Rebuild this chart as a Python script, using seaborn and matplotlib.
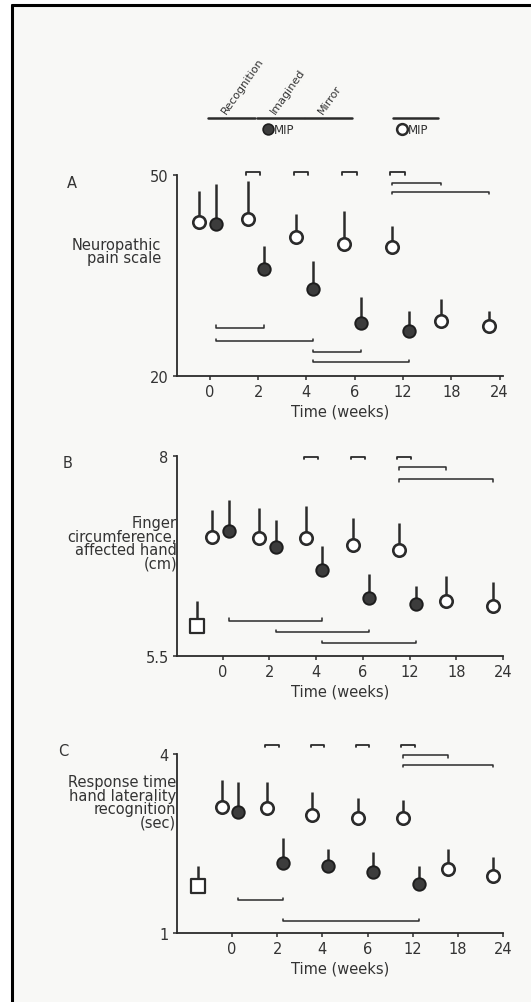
import numpy as np
import pandas as pd
import matplotlib.pyplot as plt
import seaborn as sns

sns.set_style("ticks")
plt.rcParams['font.family'] = ['DejaVu Sans']

# Data
weeks = ["0", "2", "4", "6", "12", "18", "24"]
mip_weeks = ["0", "2", "4", "6", "12"]

# A: neuropathic pain scale
a_open = [43.0, 43.4, 40.7, 39.7, 39.3, 28.2, 27.5]
a_open_top = [47.6, 49.1, 44.2, 44.6, 42.4, 31.5, 29.7]
a_mip = [42.7, 36.0, 33.0, 27.9, 26.7]
a_mip_top = [48.7, 39.4, 37.2, 31.8, 29.7]

# B: finger circumference (cm)
b_open = [6.99, 6.97, 6.97, 6.89, 6.82, 6.19, 6.13]
b_open_top = [7.32, 7.35, 7.38, 7.22, 7.16, 6.50, 6.43]
b_mip = [7.06, 6.86, 6.57, 6.22, 6.15]
b_mip_top = [7.45, 7.20, 6.87, 6.53, 6.38]
b_ctrl = 5.88
b_ctrl_top = 6.19

# C: response time hand laterality recognition (sec)
c_open = [3.12, 3.10, 2.98, 2.93, 2.93, 2.07, 1.95]
c_open_top = [3.57, 3.53, 3.37, 3.27, 3.23, 2.40, 2.28]
c_mip = [3.03, 2.18, 2.12, 2.02, 1.82]
c_mip_top = [3.53, 2.60, 2.40, 2.35, 2.12]
c_ctrl = 1.78
c_ctrl_top = 2.12

# significance bars: (from week, to week, level)
a_sig_low = [("0", "2", 27.2), ("0", "4", 25.2), ("4", "6", 23.6), ("4", "12", 22.1)]
a_sig_high = [("12", "18", 48.8), ("12", "24", 47.5)]
a_pairs = ["2", "4", "6", "12"]
b_sig_low = [("0", "4", 5.94), ("2", "6", 5.80), ("4", "12", 5.66)]
b_sig_high = [("12", "18", 7.86), ("12", "24", 7.71)]
b_pairs = ["4", "6", "12"]
c_sig_low = [("0", "2", 1.55), ("2", "12", 1.20)]
c_sig_high = [("12", "18", 3.98), ("12", "24", 3.82)]
c_pairs = ["2", "4", "6", "12"]

W, H = 531, 1003
INK = "#2b2b2b"
TXT = "#333333"
FS = 10.5
OPEN_DX, MIP_DX = -0.22, 0.13


def box(l, t, r, b):
    return [l / W, 1 - b / H, (r - l) / W, (b - t) / H]


fig = plt.figure(figsize=(W / 100, H / 100), dpi=100, facecolor="white")
bg = fig.add_axes([0, 0, 1, 1], zorder=-10)
bg.set_xlim(0, W)
bg.set_ylim(H, 0)
bg.axis("off")
bg.add_patch(plt.Rectangle((12, 6), W, H, facecolor="#f8f8f6", edgecolor="none"))
bg.plot([12, 12], [6, H], color="black", lw=2.2)
bg.plot([12, W], [6, 6], color="black", lw=2.2)


def idx(w):
    return weeks.index(w)


def panel(pos, xlim, ylim, yticks, open_v, open_top, mip_v, mip_top,
          sig_low, sig_high, pairs, pair_y, tick_h, ctrl=None, ctrl_top=None, ctrl_x=None):
    ax = fig.add_axes(box(*pos))
    ax.patch.set_alpha(0)
    xo = np.arange(len(weeks)) + OPEN_DX
    xm = np.array([idx(w) for w in mip_weeks]) + MIP_DX
    open_v, open_top = np.array(open_v), np.array(open_top)
    mip_v, mip_top = np.array(mip_v), np.array(mip_top)

    ax.errorbar(xo, open_v, yerr=[np.zeros_like(open_v), open_top - open_v],
                fmt="none", ecolor=INK, elinewidth=1.8, capsize=0, zorder=2)
    ax.errorbar(xm, mip_v, yerr=[np.zeros_like(mip_v), mip_top - mip_v],
                fmt="none", ecolor=INK, elinewidth=1.8, capsize=0, zorder=2)
    sns.scatterplot(x=xo, y=open_v, marker="o", s=80, color="white",
                    edgecolor=INK, linewidth=1.9, ax=ax, zorder=4, clip_on=False)
    sns.scatterplot(x=xm, y=mip_v, marker="o", s=80, color="#3c3c3c",
                    edgecolor="#1e1e1e", linewidth=1.4, ax=ax, zorder=4, clip_on=False)
    if ctrl is not None:
        ax.errorbar([ctrl_x], [ctrl], yerr=[[0], [ctrl_top - ctrl]], fmt="none",
                    ecolor=INK, elinewidth=1.8, capsize=0, zorder=2)
        sns.scatterplot(x=[ctrl_x], y=[ctrl], marker="s", s=90, color="white",
                        edgecolor=INK, linewidth=1.6, ax=ax, zorder=4, clip_on=False)

    # significance lines
    for w0, w1, y in sig_low:
        x0, x1 = idx(w0) + MIP_DX, idx(w1) + MIP_DX
        ax.plot([x0, x0, x1, x1], [y + tick_h, y, y, y + tick_h], color=INK, lw=1.1, clip_on=False)
    for w0, w1, y in sig_high:
        x0, x1 = idx(w0) + OPEN_DX, idx(w1) + OPEN_DX
        ax.plot([x0, x0, x1, x1], [y - tick_h, y, y, y - tick_h], color=INK, lw=1.1, clip_on=False)
    for w in pairs:
        x0, x1 = idx(w) - 0.26, idx(w) + 0.04
        ax.plot([x0, x0, x1, x1], [pair_y - tick_h, pair_y, pair_y, pair_y - tick_h],
                color=INK, lw=1.3, clip_on=False)

    ax.set_xlim(*xlim)
    ax.set_ylim(*ylim)
    ax.set_xticks(range(len(weeks)))
    ax.set_xticklabels(weeks)
    ax.set_yticks(yticks)
    ax.set_yticklabels([f"{t:g}" for t in yticks])
    ax.tick_params(axis="both", direction="out", length=3, width=1.1, colors=INK,
                   labelsize=FS, labelcolor=TXT, pad=3)
    ax.set_xlabel("Time (weeks)", fontsize=FS, color=TXT, labelpad=3)
    sns.despine(ax=ax)
    for s in ("left", "bottom"):
        ax.spines[s].set_linewidth(1.3)
        ax.spines[s].set_color(INK)
    return ax


axA = panel((177, 176, 503, 377), (-0.68, 6.07), (20, 50), [20, 50],
            a_open, a_open_top, a_mip, a_mip_top, a_sig_low, a_sig_high, a_pairs, 50.4, 0.35)
axB = panel((177, 457, 503, 657), (-0.98, 5.96), (5.5, 8), [5.5, 8],
            b_open, b_open_top, b_mip, b_mip_top, b_sig_low, b_sig_high, b_pairs, 7.99, 0.03,
            ctrl=b_ctrl, ctrl_top=b_ctrl_top, ctrl_x=-0.55)
axC = panel((177, 755, 503, 934), (-1.22, 6.0), (1, 4), [1, 4],
            c_open, c_open_top, c_mip, c_mip_top, c_sig_low, c_sig_high, c_pairs, 4.15, 0.04,
            ctrl=c_ctrl, ctrl_top=c_ctrl_top, ctrl_x=-0.75)

# panel letters and y labels
for letter, (px, py) in zip("ABC", [(72, 183), (68, 463), (63, 752)]):
    fig.text(px / W, 1 - py / H, letter, fontsize=FS, color=TXT, ha="center", va="center")
ylabels = [("Neuropathic\npain scale", 161, 252),
           ("Finger\ncircumference,\naffected hand\n(cm)", 177, 544),
           ("Response time\nhand laterality\nrecognition\n(sec)", 176, 803)]
for txt, px, py in ylabels:
    fig.text(px / W, 1 - py / H, txt, fontsize=FS, color=TXT, ha="right", va="center",
             multialignment="right", linespacing=0.88)

# treatment header above panel A
hd = fig.add_axes(box(177, 40, 503, 140))
hd.set_xlim(axA.get_xlim())
hd.set_ylim(0, 100)
hd.axis("off")
phases = ["Recognition", "Imagined", "Mirror"]
for i, name in enumerate(phases):
    hd.plot([i - 0.03, i + 0.94], [21, 21], color=INK, lw=1.8)
    hd.text(i + 0.38, 24, name, rotation=55, rotation_mode="anchor", ha="left",
            va="bottom", fontsize=8, color=TXT)
hd.plot([3.79, 4.72], [21, 21], color=INK, lw=1.8)
hd.scatter([1.2], [10], s=60, color="#3c3c3c", edgecolor="#1e1e1e", lw=1.2)
hd.text(1.33, 10, "MIP", fontsize=8.5, color=TXT, va="center", ha="left")
hd.scatter([3.97], [10], s=60, color="white", edgecolor=INK, lw=1.8)
hd.text(4.1, 10, "MIP", fontsize=8.5, color=TXT, va="center", ha="left")

fig.savefig("out.png", dpi=100, facecolor=fig.get_facecolor())
